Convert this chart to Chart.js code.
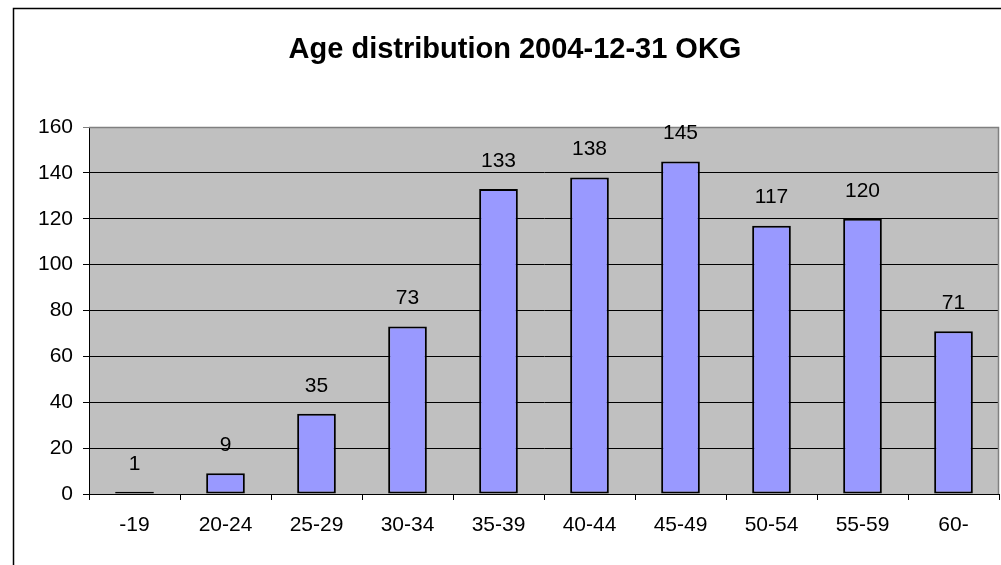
<!DOCTYPE html>
<html>
<head>
<meta charset="utf-8">
<title>Age distribution 2004-12-31 OKG</title>
<script src="https://cdn.jsdelivr.net/npm/chart.js@4.4.1/dist/chart.umd.min.js"></script>
<style>
  html, body { margin: 0; padding: 0; background: #ffffff; }
  #wrap { width: 1001px; height: 565px; position: relative; }
</style>
</head>
<body>
<div id="wrap"><canvas id="chart" width="1001" height="565"></canvas></div>
<script>
// Age groups and headcount per group
const chartTitle = 'Age distribution 2004-12-31 OKG';
const ageGroups = ['-19', '20-24', '25-29', '30-34', '35-39', '40-44', '45-49', '50-54', '55-59', '60-'];
const headcount = [1, 9, 35, 73, 133, 138, 145, 117, 120, 71];
const yTicks = [0, 20, 40, 60, 80, 100, 120, 140, 160];

const FONT = '"Liberation Sans", Arial, Helvetica, sans-serif';

// Frame, plot background, plot border, title and value labels
const decorations = {
  id: 'decorations',
  beforeDraw(chart) {
    const { ctx, chartArea: a } = chart;
    ctx.save();
    ctx.fillStyle = '#ffffff';
    ctx.fillRect(0, 0, chart.width, chart.height);
    // outer chart frame
    ctx.strokeStyle = '#000000';
    ctx.lineWidth = 1.5;
    ctx.beginPath();
    ctx.moveTo(13.5, chart.height + 2);
    ctx.lineTo(13.5, 8.5);
    ctx.lineTo(chart.width + 2, 8.5);
    ctx.stroke();
    // plot area fill
    ctx.fillStyle = '#C0C0C0';
    ctx.fillRect(a.left, a.top, a.right - a.left, a.bottom - a.top);
    // title
    ctx.fillStyle = '#000000';
    ctx.font = 'bold 29px ' + FONT;
    ctx.textAlign = 'center';
    ctx.textBaseline = 'middle';
    ctx.fillText(chartTitle, 515, 50);
    ctx.restore();
  },
  afterDatasetsDraw(chart) {
    const { ctx, chartArea: a } = chart;
    ctx.save();
    // plot area border (top and right)
    ctx.strokeStyle = '#808080';
    ctx.lineWidth = 1.5;
    ctx.beginPath();
    ctx.moveTo(a.left, a.top + 0.5);
    ctx.lineTo(a.right - 0.5, a.top + 0.5);
    ctx.lineTo(a.right - 0.5, a.bottom);
    ctx.stroke();
    // value labels above bars
    ctx.fillStyle = '#000000';
    ctx.font = '21px ' + FONT;
    ctx.textAlign = 'center';
    ctx.textBaseline = 'middle';
    const meta = chart.getDatasetMeta(0);
    meta.data.forEach((bar, i) => {
      ctx.fillText(String(headcount[i]), bar.x, bar.y - 28);
    });
    ctx.restore();
  }
};

new Chart(document.getElementById('chart'), {
  type: 'bar',
  data: {
    labels: ageGroups,
    datasets: [{
      data: headcount,
      backgroundColor: '#9999FF',
      borderColor: '#000000',
      borderWidth: 2,
      borderSkipped: false,
      barPercentage: 0.425,
      categoryPercentage: 1.0
    }]
  },
  options: {
    responsive: false,
    animation: false,
    devicePixelRatio: 1,
    layout: { padding: { top: 127, right: 2, left: 0, bottom: 0 } },
    plugins: {
      legend: { display: false },
      tooltip: { enabled: false },
      title: { display: false }
    },
    scales: {
      x: {
        grid: {
          offset: true,
          drawOnChartArea: false,
          drawTicks: true,
          tickLength: 6,
          color: '#000000',
          lineWidth: 1
        },
        border: { display: true, color: '#000000', width: 1 },
        ticks: {
          color: '#000000',
          font: { family: FONT, size: 21 },
          padding: 13,
          maxRotation: 0,
          autoSkip: false
        },
        afterFit(scale) { scale.height = 71; }
      },
      y: {
        min: yTicks[0],
        max: yTicks[yTicks.length - 1],
        afterBuildTicks(scale) { scale.ticks = yTicks.map(v => ({ value: v })); },
        grid: {
          drawTicks: true,
          tickLength: 6,
          lineWidth: 1,
          color: ctx => (ctx.tick && ctx.tick.value === yTicks[yTicks.length - 1]) ? '#808080' : '#000000'
        },
        border: { display: true, color: '#000000', width: 1 },
        ticks: {
          color: '#000000',
          font: { family: FONT, size: 21 },
          padding: 10
        },
        afterFit(scale) { scale.width = 89; }
      }
    }
  },
  plugins: [decorations]
});
</script>
</body>
</html>
